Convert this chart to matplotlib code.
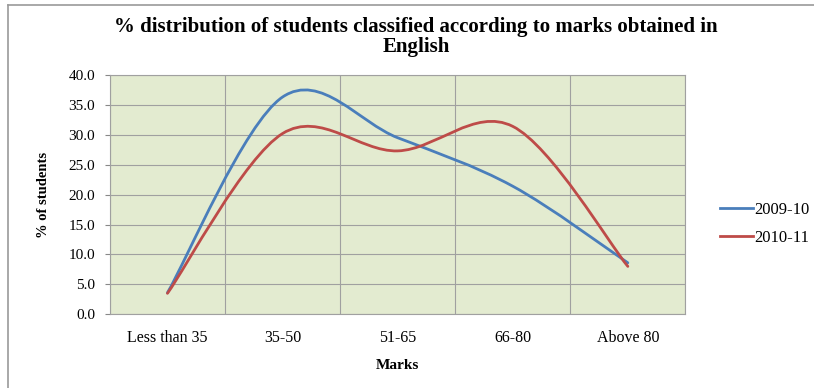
import numpy as np
import matplotlib
matplotlib.use("Agg")
import matplotlib.pyplot as plt
from matplotlib.path import Path
from matplotlib.patches import PathPatch
from matplotlib.lines import Line2D

# data
marks = ["Less than 35", "35-50", "51-65", "66-80", "Above 80"]
y2009 = [3.6, 36.3, 29.5, 21.4, 8.6]
y2010 = [3.5, 30.2, 27.3, 31.4, 8.0]
yticks = [0, 5, 10, 15, 20, 25, 30, 35, 40]

blue = "#4A7EBB"
red = "#BE4B48"

plt.rcParams["font.family"] = ["Liberation Serif", "DejaVu Serif"]


def smooth_path(xs, ys):
    # Excel-like smoothed line: cubic Bezier segments through every point
    pts = np.column_stack([xs, ys]).astype(float)
    n = len(pts)
    verts = [pts[0]]
    codes = [Path.MOVETO]
    for i in range(n - 1):
        p0 = pts[i - 1] if i > 0 else pts[i]
        p1 = pts[i]
        p2 = pts[i + 1]
        p3 = pts[i + 2] if i + 2 < n else pts[i + 1]
        c1 = p1 + (p2 - p0) / 6.0
        c2 = p2 - (p3 - p1) / 6.0
        verts += [c1, c2, p2]
        codes += [Path.CURVE4] * 3
    return Path(verts, codes)


fig = plt.figure(figsize=(8.14, 3.88), dpi=100)
ax = fig.add_axes([0.135, 0.19, 0.707, 0.617])
ax.set_facecolor("#E3EBD0")

x = np.arange(len(marks))
for ys, col in [(y2009, blue), (y2010, red)]:
    ax.add_patch(PathPatch(smooth_path(x, ys), fill=False, edgecolor=col,
                           lw=2.0, capstyle="round", zorder=3))

ax.set_xlim(-0.5, len(marks) - 0.5)
ax.set_ylim(0, 40)
ax.set_yticks(yticks)
ax.set_yticklabels(["%.1f" % v for v in yticks], fontsize=11)
ax.set_xticks(x)
ax.set_xticklabels(marks, fontsize=11.5)
ax.set_xticks(np.arange(-0.5, len(marks), 1.0), minor=True)
ax.tick_params(axis="x", which="both", length=0, pad=11)
ax.tick_params(axis="y", length=3.6, color="#888888", pad=7)
ax.grid(True, axis="y", which="major", color="#A0A0A0", lw=0.8)
ax.grid(True, axis="x", which="minor", color="#A0A0A0", lw=0.8)
ax.set_axisbelow(True)
for s in ax.spines.values():
    s.set_color("#A0A0A0")
    s.set_linewidth(0.8)

ax.set_xlabel("Marks", fontsize=11, fontweight="bold", labelpad=10)
ax.set_ylabel("% of students", fontsize=10.5, fontweight="bold", labelpad=13)

fig.text(0.511, 0.905,
         "% distribution of students classified according to marks obtained in\nEnglish",
         ha="center", va="center", fontsize=15, fontweight="bold",
         linespacing=1.0)

handles = [Line2D([], [], color=blue, lw=2), Line2D([], [], color=red, lw=2)]
fig.legend(handles, ["2009-10", "2010-11"], loc="center left",
           bbox_to_anchor=(0.866, 0.423), frameon=False, fontsize=12,
           handlelength=2.0, handletextpad=0.05, labelspacing=0.68)

# outer chart frame (left and top edges visible)
fig.add_artist(Line2D([0.010, 0.010], [0.0, 0.987], color="#9A9A9A", lw=1.2))
fig.add_artist(Line2D([0.010, 1.0], [0.987, 0.987], color="#9A9A9A", lw=1.2))

fig.savefig("out.png", dpi=100)
